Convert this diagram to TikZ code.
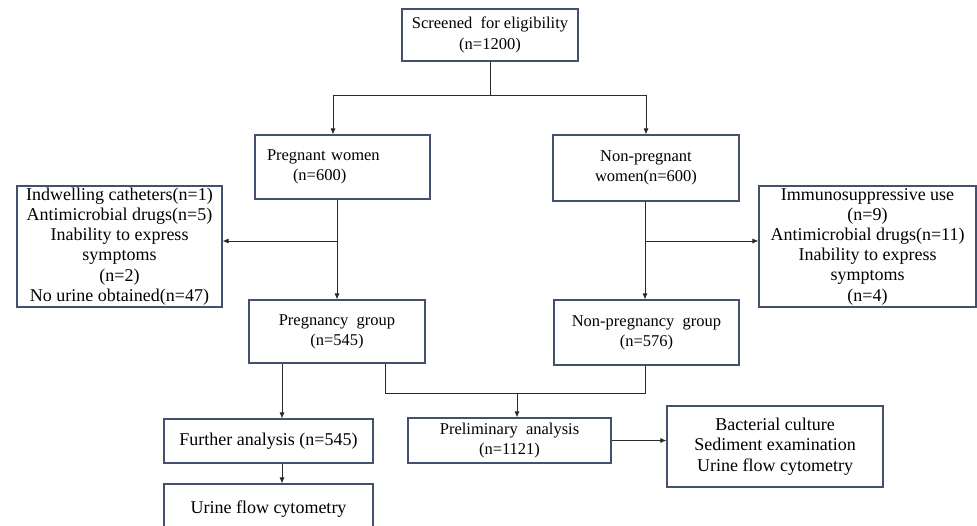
\documentclass[tikz,border=0pt]{standalone}
\usepackage{fontspec}
\setmainfont{Liberation Serif}
\usetikzlibrary{arrows.meta}
\definecolor{boxline}{HTML}{44506E}
\definecolor{conn}{HTML}{2A2A2A}
\tikzset{
  box/.style={draw=boxline, line width=1.1pt, rectangle, inner sep=0pt, align=center,
    font=\fontsize{16.5}{20.2}\selectfont, text=black},
  bigtext/.style={font=\fontsize{18}{20.2}\selectfont},
  conline/.style={draw=conn, line width=0.9pt},
  arr/.style={conline, -{Latex[length=6pt,width=5pt]}}
}
\begin{document}
\begin{tikzpicture}[x=1pt,y=-1pt]
\useasboundingbox (0,0) rectangle (977,525);
\fill[white] (0,0) rectangle (977,525);
\clip (0,0) rectangle (977,525);
% boxes
\node[box, minimum width=176pt, minimum height=52pt] (scr) at (490,35) {Screened\ \ for eligibility\\(n=1200)};
\node[box, minimum width=175pt, minimum height=64pt, align=left, text width=151pt] (pw) at (342.5,167) {Pregnant women\\\hspace*{26pt}(n=600)};
\node[box, minimum width=186pt, minimum height=66pt] (npw) at (646,168) {Non-pregnant\\women(n=600)};
\node[box, bigtext, minimum width=205pt, minimum height=121pt] (exL) at (119.5,246.5) {Indwelling catheters(n=1)\\Antimicrobial drugs(n=5)\\Inability to express\\symptoms\\(n=2)\\No urine obtained(n=47)};
\node[box, bigtext, minimum width=217pt, minimum height=121pt] (exR) at (867.5,246.5) {Immunosuppressive use\\(n=9)\\Antimicrobial drugs(n=11)\\Inability to express\\symptoms\\(n=4)};
\node[box, minimum width=176pt, minimum height=63pt] (pg) at (337,331.5) {Pregnancy\ \ group\\(n=545)};
\node[box, minimum width=185pt, minimum height=65pt] (npg) at (646.5,332.5) {Non-pregnancy\ \ group\\(n=576)};
\node[box, bigtext, minimum width=209pt, minimum height=44pt] (fa) at (268.5,441) {Further analysis (n=545)};
\node[box, bigtext, minimum width=209pt, minimum height=51pt] (ufc) at (268.5,509.5) {Urine flow cytometry};
\node[box, minimum width=203pt, minimum height=45pt] (pa) at (509.5,440.5) {Preliminary\ \ analysis\\(n=1121)};
\node[box, bigtext, minimum width=216pt, minimum height=81pt] (bc) at (775,446.5) {Bacterial culture\\Sediment examination\\Urine flow cytometry};
% junction coordinates
\coordinate (t1) at (490,95);
\coordinate (tL) at (333,95);
\coordinate (tR) at (646,95);
\coordinate (bL) at (337,241);
\coordinate (bR) at (645,241);
\coordinate (d1) at (282,0);
\coordinate (m1) at (385,393);
\coordinate (m2) at (645,393);
\coordinate (m3) at (517,393);
% connectors
\draw[conline] (scr.south) -- (t1);
\draw[conline] (tL) -- (tR);
\draw[arr] (tL) -- (tL |- pw.north);
\draw[arr] (tR) -- (tR |- npw.north);
\draw[arr] (bL |- pw.south) -- (bL |- pg.north);
\draw[arr] (bL) -- (bL -| exL.east);
\draw[arr] (bR |- npw.south) -- (bR |- npg.north);
\draw[arr] (bR) -- (bR -| exR.west);
\draw[arr] (d1 |- pg.south) -- (d1 |- fa.north);
\draw[arr] (d1 |- fa.south) -- (d1 |- ufc.north);
\draw[conline] (m1 |- pg.south) -- (m1) -- (m2) -- (m2 |- npg.south);
\draw[arr] (m3) -- (m3 |- pa.north);
\draw[arr] (pa.east) -- (pa.east -| bc.west);
\end{tikzpicture}
\end{document}
